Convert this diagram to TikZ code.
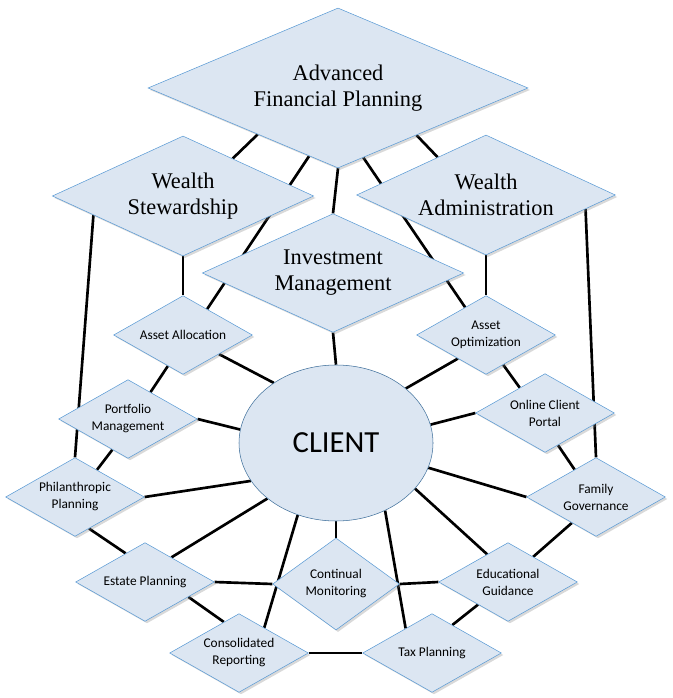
\documentclass[tikz,border=0pt]{standalone}
\usepackage{fontspec}
\setmainfont{Liberation Serif}
\newfontfamily\labelfont{Carlito}
\usepackage{tikz}
\usetikzlibrary{shapes.geometric}
\usetikzlibrary{shadows}
\usetikzlibrary{backgrounds}
\tikzstyle{line} = [draw, line width=0.7mm]
\definecolor{diafill}{RGB}{220,230,242}
\definecolor{diaedge}{RGB}{91,155,213}
\definecolor{clientedge}{RGB}{65,113,156}

\begin{document}
\begin{tikzpicture}[x=0.75pt, y=-0.75pt,
        area/.style={diamond, draw=diaedge, fill=diafill, inner sep=0pt, aspect=2.2,
          drop shadow={shadow xshift=1.5pt, shadow yshift=-1.5pt, opacity=0.3},
          font=\fontsize{16.8}{19.5}\selectfont},
        service/.style={diamond, draw=diaedge, fill=diafill, inner sep=0pt, aspect=1.75,
          minimum width=104pt, minimum height=59pt,
          drop shadow={shadow xshift=1.5pt, shadow yshift=-1.5pt, opacity=0.3},
          font=\labelfont\fontsize{10}{12.75}\selectfont},
        every text node part/.style={align=center}]
        \useasboundingbox (0,0) rectangle (672,698);

        \node[area, minimum width=285pt, minimum height=120pt, aspect=2.375](node1) at (338,88) {Advanced\\Financial Planning};
        \node[area, minimum width=196pt, minimum height=90pt](node2) at (183,196) {Wealth\\Stewardship};
        \node[area, minimum width=194pt, minimum height=90pt](node3) at (486,195) {Wealth\\Administration};
        \node[area, minimum width=196pt, minimum height=89pt](node4) at (333,273) {Investment\\Management};

        \node[service](node5) at (183,335) {Asset Allocation};
        \node[service](node6) at (486,335) {Asset\\Optimization};
        \node[service](node7) at (128,419) {Portfolio\\Management};
        \node[service](node8) at (545,413) {Online Client\\Portal};
        \node[service](node9) at (75,497) {Philanthropic\\Planning};
        \node[service](node10) at (596,497) {Family\\Governance};
        \node[service](node11) at (145,582) {Estate Planning};
        \node[service, minimum width=95pt, minimum height=69pt, aspect=1.4](node12) at (336,584) {Continual\\Monitoring};
        \node[service](node13) at (508,582) {Educational\\Guidance};
        \node[service](node14) at (239,653) {Consolidated\\Reporting};
        \node[service](node15) at (432,653) {Tax Planning};

        \node[ellipse, draw=clientedge, fill=diafill, minimum width=145.5pt, minimum height=117pt,
          font=\labelfont\fontsize{23}{27}\selectfont](client) at (336,443) {CLIENT};

        \begin{scope}[on background layer]
        \draw[line] (node1.210) -- (node2.37);
        \draw[line] (node1.247) -- (node5.47);
        \draw[line] (node1.south) -- (node4.north);
        \draw[line] (node1.290) -- (node6.127);
        \draw[line] (node1.329) -- (node3.142);
        \draw[line] (node2.south) -- (node5.north);
        \draw[line] (node3.south) -- (node6.north);
        \draw[line] (node2.192) -- (node9.north);
        \draw[line] (node3.352) -- (node10.north);
        \draw[line] (node4.south) -- (client.north);
        \draw[line] (node5.332) -- (client.136);
        \draw[line] (node5.244) -- (node7.50);
        \draw[line] (node7.east) -- (client.172);
        \draw[line] (node7.243) -- (node9.51);
        \draw[line] (node9.east) -- (client.204);
        \draw[line] (node9.294) -- (node11.124);
        \draw[line] (node11.43) -- (client.219);
        \draw[line] (node11.east) -- (node12.west);
        \draw[line] (node11.341) -- (node14.116);
        \draw[line] (node14.45) -- (client.242);
        \draw[line] (client.south) -- (node12.north);
        \draw[line] (node14.east) -- (node15.west);
        \draw[line] (node15.137) -- (client.306);
        \draw[line] (node12.east) -- (node13.west);
        \draw[line] (node13.127) -- (client.330);
        \draw[line] (node13.217) -- (node15.54);
        \draw[line] (node13.45) -- (node10.227);
        \draw[line] (node10.west) -- (client.345);
        \draw[line] (node8.292) -- (node10.128);
        \draw[line] (node8.west) -- (client.11);
        \draw[line] (node6.300) -- (node8.135);
        \draw[line] (node6.220) -- (client.38);
        \end{scope}
\end{tikzpicture}
\end{document}
